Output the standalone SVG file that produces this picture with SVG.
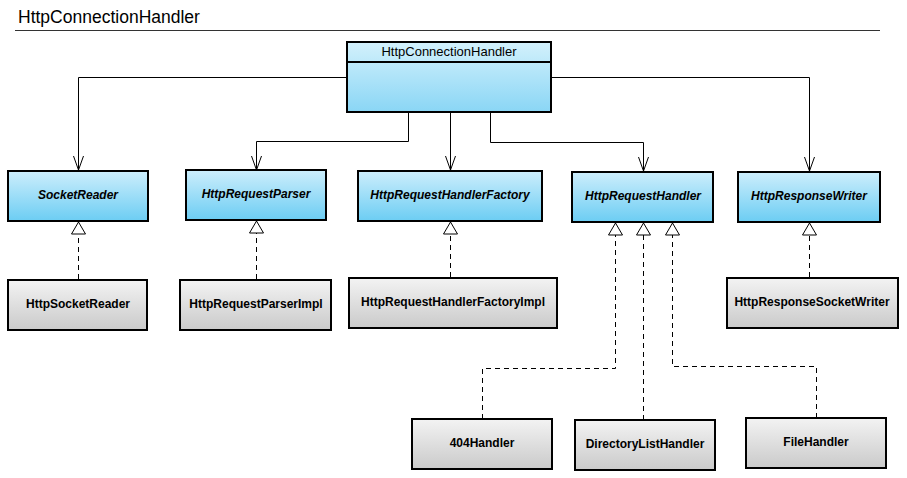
<svg xmlns="http://www.w3.org/2000/svg" width="907" height="478" viewBox="0 0 907 478">
  <defs>
    <linearGradient id="gClass" x1="0" y1="0" x2="0" y2="1">
      <stop offset="0" stop-color="#d3f1fc"/>
      <stop offset="1" stop-color="#8ad6f5"/>
    </linearGradient>
    <linearGradient id="gIface" x1="0" y1="0" x2="0" y2="1">
      <stop offset="0" stop-color="#cdeefc"/>
      <stop offset="1" stop-color="#6ccdf3"/>
    </linearGradient>
    <linearGradient id="gImpl" x1="0" y1="0" x2="0" y2="1">
      <stop offset="0" stop-color="#f3f3f3"/>
      <stop offset="1" stop-color="#cacaca"/>
    </linearGradient>
    <!-- open arrowhead for associations -->
    <marker id="open" markerUnits="userSpaceOnUse" markerWidth="15" markerHeight="12" viewBox="0 0 15 12" refX="14" refY="6" orient="auto" overflow="visible">
      <path d="M0,1 L14,6 L0,11" fill="none" stroke="#000" stroke-width="1" stroke-dasharray="none"/>
    </marker>
    <!-- hollow triangle for realizations -->
    <marker id="tri" markerUnits="userSpaceOnUse" markerWidth="13" markerHeight="15" viewBox="0 0 13 15" refX="12.5" refY="7.5" orient="auto" overflow="visible">
      <path d="M0.5,0.5 L12.5,7.5 L0.5,14.5 Z" fill="#fff" stroke="#000" stroke-width="1" stroke-dasharray="none"/>
    </marker>
  </defs>
  <style>
    .box { stroke: #000; stroke-width: 2; }
    .cls { fill: url(#gClass); }
    .iface { fill: url(#gIface); }
    .impl { fill: url(#gImpl); }
    .t { font-family: "Liberation Sans", Arial, sans-serif; font-size: 12px; text-anchor: middle; fill: #000; }
    .tc { font-size: 13px; }
    .ti { font-weight: bold; font-style: italic; }
    .tb { font-weight: bold; }
    .assoc { fill: none; stroke: #000; stroke-width: 1; marker-end: url(#open); }
    .real { fill: none; stroke: #000; stroke-width: 1; stroke-dasharray: 5 4; marker-end: url(#tri); }
  </style>

  <rect width="907" height="478" fill="#fff"/>

  <!-- title -->
  <text x="18" y="23" font-family="Liberation Sans, Arial, sans-serif" font-size="17.5" fill="#000">HttpConnectionHandler</text>
  <line x1="15" y1="30.5" x2="880" y2="30.5" stroke="#333" stroke-width="1"/>

  <!-- connectors -->
  <g id="connectors">
    <path class="assoc" d="M347,77.5 H78.5 V170"/>
    <path class="assoc" d="M551,77.5 H809.5 V171"/>
    <path class="assoc" d="M408.5,112 V141.5 H256.5 V170"/>
    <path class="assoc" d="M450.5,112 V170"/>
    <path class="assoc" d="M490.5,112 V142.5 H643.5 V171"/>

    <path class="real" d="M78.5,279 V222"/>
    <path class="real" d="M256.5,279 V221"/>
    <path class="real" d="M450.5,277 V222"/>
    <path class="real" d="M809.5,277 V223"/>
    <path class="real" d="M482.5,419 V368.5 H615.5 V223"/>
    <path class="real" d="M643.5,420 V223"/>
    <path class="real" d="M816.5,418 V366.5 H672.5 V223"/>
  </g>

  <!-- main class -->
  <g id="HttpConnectionHandler">
    <rect class="box cls" x="347" y="42" width="204" height="70"/>
    <line x1="347" y1="62" x2="551" y2="62" stroke="#000" stroke-width="2"/>
    <text class="t tc" x="449" y="56">HttpConnectionHandler</text>
  </g>

  <!-- interfaces -->
  <g id="SocketReader">
    <rect class="box iface" x="8" y="171" width="140" height="50"/>
    <text class="t ti" x="78" y="199">SocketReader</text>
  </g>
  <g id="HttpRequestParser">
    <rect class="box iface" x="186" y="170" width="140" height="50"/>
    <text class="t ti" x="256" y="198">HttpRequestParser</text>
  </g>
  <g id="HttpRequestHandlerFactory">
    <rect class="box iface" x="358" y="171" width="184" height="50"/>
    <text class="t ti" x="450" y="199">HttpRequestHandlerFactory</text>
  </g>
  <g id="HttpRequestHandler">
    <rect class="box iface" x="572" y="172" width="141" height="50"/>
    <text class="t ti" x="643" y="200">HttpRequestHandler</text>
  </g>
  <g id="HttpResponseWriter">
    <rect class="box iface" x="738" y="172" width="142" height="50"/>
    <text class="t ti" x="809" y="200">HttpResponseWriter</text>
  </g>

  <!-- implementations -->
  <g id="HttpSocketReader">
    <rect class="box impl" x="8" y="280" width="139" height="50"/>
    <text class="t tb" x="78" y="308">HttpSocketReader</text>
  </g>
  <g id="HttpRequestParserImpl">
    <rect class="box impl" x="180" y="280" width="151" height="50"/>
    <text class="t tb" x="256" y="308">HttpRequestParserImpl</text>
  </g>
  <g id="HttpRequestHandlerFactoryImpl">
    <rect class="box impl" x="349" y="278" width="208" height="50"/>
    <text class="t tb" x="453" y="306">HttpRequestHandlerFactoryImpl</text>
  </g>
  <g id="HttpResponseSocketWriter">
    <rect class="box impl" x="727" y="278" width="171" height="50"/>
    <text class="t tb" x="812" y="306">HttpResponseSocketWriter</text>
  </g>

  <!-- request handlers -->
  <g id="Handler404">
    <rect class="box impl" x="412" y="419" width="140" height="50"/>
    <text class="t tb" x="482" y="447">404Handler</text>
  </g>
  <g id="DirectoryListHandler">
    <rect class="box impl" x="575" y="420" width="140" height="50"/>
    <text class="t tb" x="645" y="448">DirectoryListHandler</text>
  </g>
  <g id="FileHandler">
    <rect class="box impl" x="746" y="418" width="140" height="50"/>
    <text class="t tb" x="816" y="446">FileHandler</text>
  </g>
</svg>
